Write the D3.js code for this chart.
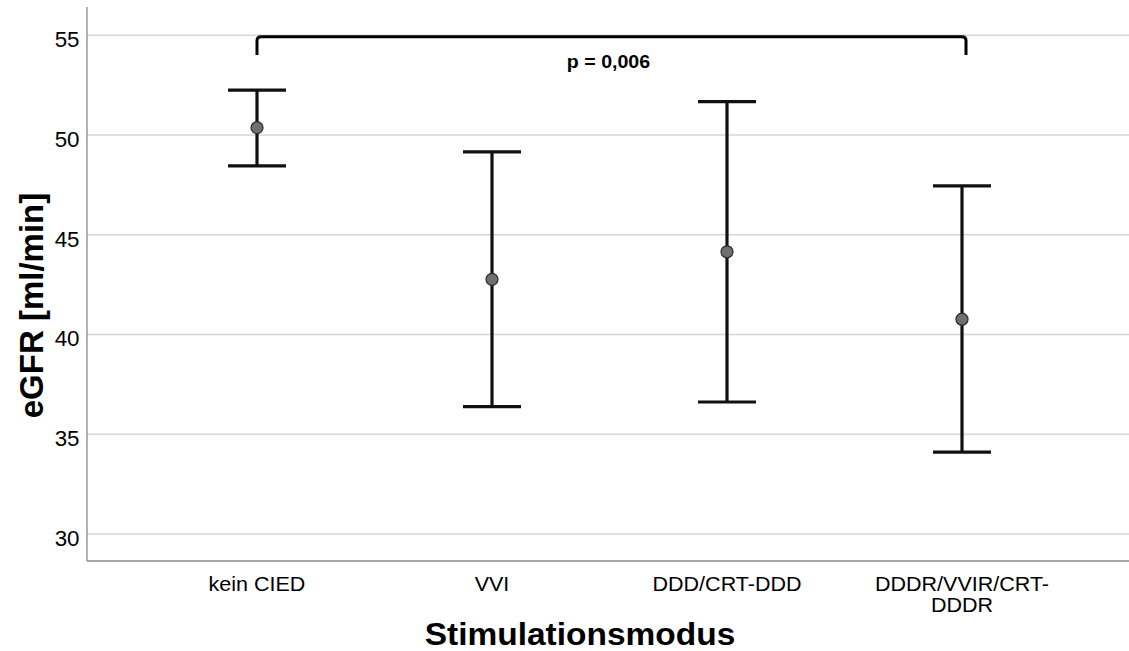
<!DOCTYPE html>
<html>
<head>
<meta charset="utf-8">
<script src="https://cdn.jsdelivr.net/npm/d3@7"></script>
<style>
  html, body { margin: 0; padding: 0; background: #fff; }
  svg { display: block; font-family: "Liberation Sans", Arial, Helvetica, sans-serif; }
</style>
</head>
<body>
<svg id="chart" width="1129" height="651"></svg>
<script>
// Mean eGFR with error bars per pacing mode
const categories = ["kein CIED", "VVI", "DDD/CRT-DDD", "DDDR/VVIR/CRT-DDDR"];
const means      = [50.34, 42.74, 44.12, 40.74];
const lower      = [48.43, 36.36, 36.59, 34.08];
const upper      = [52.22, 49.13, 51.65, 47.42];
const yTicks     = [30, 35, 40, 45, 50, 55];
const yLabel     = "eGFR [ml/min]";
const xLabel     = "Stimulationsmodus";
const pLabel     = "p = 0,006";
const bracketFrom = "kein CIED", bracketTo = "DDDR/VVIR/CRT-DDDR";
const bracketTop = 54.9, bracketLeg = 53.98;

const svg = d3.select("#chart");
const plot = { left: 87, right: 1129, top: 7, bottom: 561 };

const x = d3.scalePoint().domain(categories).range([257, 962]);
const y = d3.scaleLinear().domain([28.62, 56.39]).range([plot.bottom, plot.top]);

// Horizontal text helper (optionally widened along x)
function htext(g, tx, ty, str, size, weight, anchor, sx) {
  return g.append("text")
    .attr("transform", `translate(${tx},${ty}) scale(${sx},1)`)
    .attr("text-anchor", anchor)
    .attr("font-size", size)
    .attr("font-weight", weight)
    .attr("fill", "#000")
    .text(str);
}

// Gridlines
const yAxis = d3.axisLeft(y).tickValues(yTicks).tickSize(-(plot.right - plot.left)).tickFormat("");
const gGrid = svg.append("g").attr("transform", `translate(${plot.left},0)`).call(yAxis);
gGrid.select(".domain").remove();
gGrid.selectAll(".tick line").attr("stroke", "#d6d6d6").attr("stroke-width", 1.5);

// Y tick labels
const gTicks = svg.append("g");
yTicks.forEach(v => {
  htext(gTicks, 79.5, y(v) + 12.5, String(v), 21.5, "normal", "end", 1.04);
});

// Axis lines
svg.append("line").attr("x1", plot.left).attr("x2", plot.left)
  .attr("y1", plot.top).attr("y2", plot.bottom)
  .attr("stroke", "#8a8a8a").attr("stroke-width", 1.3);
svg.append("line").attr("x1", plot.left).attr("x2", plot.right)
  .attr("y1", plot.bottom).attr("y2", plot.bottom)
  .attr("stroke", "#8a8a8a").attr("stroke-width", 1.5);

// Category labels (wrapped after the hyphen when too long)
const gCat = svg.append("g");
categories.forEach(c => {
  let lines = [c];
  if (c.length > 14) {
    const i = c.lastIndexOf("-");
    lines = [c.slice(0, i + 1), c.slice(i + 1)];
  }
  lines.forEach((ln, k) => htext(gCat, x(c), 591 + k * 20.5, ln, 20.5, "normal", "middle", 1.05));
});

// Error bars
const data = categories.map((c, i) => ({ c, m: means[i], lo: lower[i], hi: upper[i] }));
const capHalf = 29;
const gBars = svg.append("g").attr("stroke", "#111").attr("stroke-width", 3.2);
const bar = gBars.selectAll("g.bar").data(data).join("g").attr("class", "bar");
bar.append("line")
  .attr("x1", d => x(d.c)).attr("x2", d => x(d.c))
  .attr("y1", d => y(d.hi)).attr("y2", d => y(d.lo));
bar.append("line")
  .attr("x1", d => x(d.c) - capHalf).attr("x2", d => x(d.c) + capHalf)
  .attr("y1", d => y(d.hi)).attr("y2", d => y(d.hi));
bar.append("line")
  .attr("x1", d => x(d.c) - capHalf).attr("x2", d => x(d.c) + capHalf)
  .attr("y1", d => y(d.lo)).attr("y2", d => y(d.lo));

svg.append("g").selectAll("circle").data(data).join("circle")
  .attr("cx", d => x(d.c)).attr("cy", d => y(d.m)).attr("r", 6)
  .attr("fill", "#6f6f6f").attr("stroke", "#2a2a2a").attr("stroke-width", 1.2);

// Significance bracket
const bx1 = x(bracketFrom), bx2 = x(bracketTo) + 4;
const by = y(bracketTop), byl = y(bracketLeg), r = 4;
const path = d3.path();
path.moveTo(bx1, byl);
path.lineTo(bx1, by + r);
path.quadraticCurveTo(bx1, by, bx1 + r, by);
path.lineTo(bx2 - r, by);
path.quadraticCurveTo(bx2, by, bx2, by + r);
path.lineTo(bx2, byl);
svg.append("path").attr("d", path.toString())
  .attr("fill", "none").attr("stroke", "#000").attr("stroke-width", 3);
htext(svg, (bx1 + bx2) / 2 - 3, 67.5, pLabel, 17.5, "bold", "middle", 1.12);

// Axis titles
htext(svg, 580, 645, xLabel, 31, "bold", "middle", 1.08);
svg.append("text")
  .attr("transform", `translate(43,305.5) rotate(-90)`)
  .attr("text-anchor", "middle")
  .attr("font-size", 33).attr("font-weight", "bold")
  .text(yLabel);
</script>
</body>
</html>
